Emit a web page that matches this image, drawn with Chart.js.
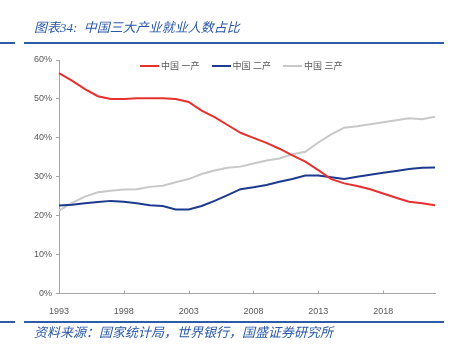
<!DOCTYPE html>
<html>
<head>
<meta charset="utf-8">
<script src="https://cdn.jsdelivr.net/npm/chart.js@4.4.0/dist/chart.umd.min.js"></script>
<style>
  html, body { margin: 0; padding: 0; background: #fff; }
  #wrap { position: relative; width: 464px; height: 355px; overflow: hidden; }
  #c { position: absolute; left: 0; top: 0; }
  .rule { position: absolute; height: 2px; background: #2A5CA8; }
  .cap { position: absolute; font-family: "Liberation Serif", "Noto Sans CJK SC", serif; font-style: italic; color: #2B58A6; font-size: 13px; line-height: 16px; white-space: nowrap; }
  #legend { position: absolute; left: 140px; top: 60px; display: flex; font-family: "Liberation Sans", "Noto Sans CJK SC", sans-serif; font-size: 9px; line-height: 12px; color: #595959; white-space: nowrap; }
  #legend .item { display: flex; align-items: center; width: 71.5px; }
  #legend .sw { display: inline-block; width: 19px; height: 2px; margin-right: 2px; }
</style>
</head>
<body>
<div id="wrap">
  <canvas id="c" width="464" height="355"></canvas>
  <div id="legend"></div>
  <div class="cap" id="title" style="left:34px; top:20px;">图表34:&nbsp;&nbsp;中国三大产业就业人数占比</div>
  <div class="rule" style="left:0; width:15px; top:42px;"></div>
  <div class="rule" style="left:24px; width:420px; top:42px;"></div>
  <div class="rule" style="left:0; width:15px; top:321px;"></div>
  <div class="rule" style="left:24px; width:420px; top:321px;"></div>
  <div class="cap" id="source" style="left:34px; top:325px;">资料来源：国家统计局，世界银行，国盛证券研究所</div>
</div>
<script>
const years = [1993,1994,1995,1996,1997,1998,1999,2000,2001,2002,2003,2004,2005,2006,2007,2008,2009,2010,2011,2012,2013,2014,2015,2016,2017,2018,2019,2020,2021,2022];
const primary = [56.6,54.7,52.5,50.7,50.0,50.0,50.2,50.2,50.2,50.0,49.2,47.0,45.3,43.3,41.3,40.0,38.7,37.2,35.5,33.9,31.7,29.4,28.3,27.6,26.8,25.7,24.6,23.6,23.2,22.7];
const secondary = [22.6,22.8,23.2,23.5,23.8,23.6,23.2,22.7,22.5,21.6,21.6,22.5,23.8,25.3,26.8,27.3,27.9,28.7,29.4,30.3,30.3,29.9,29.4,30.0,30.5,31.0,31.5,32.0,32.3,32.4];
const tertiary = [21.3,23.3,24.9,26.0,26.4,26.7,26.8,27.4,27.7,28.6,29.4,30.7,31.6,32.3,32.6,33.4,34.2,34.7,35.8,36.4,38.8,40.9,42.6,43.0,43.5,44.0,44.5,45.0,44.8,45.4];
const seriesNames = ['中国 一产','中国 二产','中国 三产'];
const yTicks = [0,10,20,30,40,50,60];
const labelEvery = 5;

const AXIS = '#A6A6A6';
const TXT = '#595959';
const FONT = '"Liberation Sans", "Noto Sans CJK SC", Arial, sans-serif';

const innerTicks = {
  id: 'innerTicks',
  afterDraw(chart) {
    const x = chart.scales.x, ctx = chart.ctx;
    const yb = chart.chartArea.bottom;
    ctx.save();
    ctx.strokeStyle = AXIS;
    ctx.lineWidth = 1;
    years.forEach((yr, i) => {
      if (i > 0 && (yr - years[0]) % labelEvery === 0) {
        const px = Math.round(x.getPixelForValue(i)) + 0.5;
        ctx.beginPath();
        ctx.moveTo(px, yb);
        ctx.lineTo(px, yb - 3);
        ctx.stroke();
      }
    });
    ctx.restore();
  }
};

const chart = new Chart(document.getElementById('c'), {
  type: 'line',
  data: {
    labels: years,
    datasets: [
      { label: seriesNames[0], data: primary, borderColor: '#E8302E', backgroundColor: '#E8302E', borderWidth: 2, pointRadius: 0, tension: 0 },
      { label: seriesNames[1], data: secondary, borderColor: '#1D3A8E', backgroundColor: '#1D3A8E', borderWidth: 2, pointRadius: 0, tension: 0 },
      { label: seriesNames[2], data: tertiary, borderColor: '#C8C8C8', backgroundColor: '#C8C8C8', borderWidth: 2, pointRadius: 0, tension: 0 }
    ]
  },
  options: {
    responsive: false,
    animation: false,
    devicePixelRatio: 1,
    layout: { padding: { left: 0, right: 29, top: 60, bottom: 31.5 } },
    plugins: {
      title: { display: false },
      tooltip: { enabled: false },
      legend: { display: false }
    },
    scales: {
      x: {
        type: 'category',
        offset: false,
        grid: { display: false },
        border: { display: true, color: AXIS, width: 1 },
        ticks: {
          autoSkip: false,
          maxRotation: 0,
          padding: 5,
          color: TXT,
          font: { family: FONT, size: 9 },
          callback: function(v, i) {
            const yr = years[i];
            return (yr - years[0]) % labelEvery === 0 && i < years.length - 1 ? String(yr) : null;
          }
        },
        afterFit(s) { s.height = 30; }
      },
      y: {
        min: 0, max: 60,
        afterBuildTicks(s) { s.ticks = yTicks.map(v => ({ value: v })); },
        grid: { display: true, drawOnChartArea: false, drawTicks: true, tickLength: 3, color: AXIS },
        border: { display: true, color: AXIS, width: 1 },
        ticks: {
          padding: 4,
          color: TXT,
          font: { family: FONT, size: 9 },
          callback: v => v + '%'
        },
        afterFit(s) { s.width = 59; }
      }
    }
  },
  plugins: [innerTicks]
});

// HTML legend built from the chart's datasets
const leg = document.getElementById('legend');
chart.data.datasets.forEach(ds => {
  const item = document.createElement('div');
  item.className = 'item';
  const sw = document.createElement('span');
  sw.className = 'sw';
  sw.style.background = ds.borderColor;
  const t = document.createElement('span');
  t.textContent = ds.label;
  item.appendChild(sw);
  item.appendChild(t);
  leg.appendChild(item);
});
</script>
</body>
</html>
